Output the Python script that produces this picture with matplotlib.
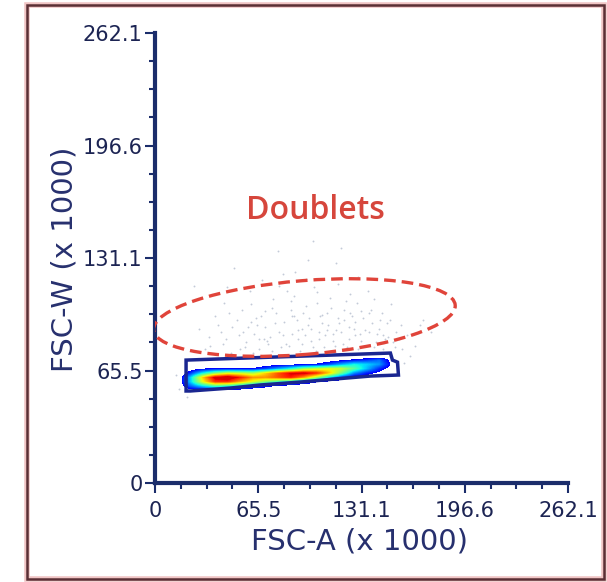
import numpy as np
import matplotlib.pyplot as plt
from matplotlib.colors import ListedColormap
from matplotlib.patches import Ellipse, Polygon, Rectangle
from matplotlib.ticker import FixedLocator, MultipleLocator

plt.rcParams["font.family"] = ["DejaVu Sans"]

# axis scale (FSC x 1000)
axis_max = 262.144
tick_values = [0, 65.536, 131.072, 196.608, 262.144]
tick_labels = ["0", "65.5", "131.1", "196.6", "262.1"]

# density of the singlet population (0 = no events)
dens_x = [14, 22, 30, 38, 46, 54, 62, 70, 78, 86, 94, 102, 110, 118, 126, 134, 142, 150, 158]
dens_y = [51.5, 54, 56.5, 59, 61.5, 64, 66.5, 69, 71.5, 74, 76.5]
dens_rows = [
    # y = 51.5
    [0] * 19,
    # y = 54
    [0, 0.05, 0.06, 0.08, 0.06, 0.04, 0.00, 0.00, 0.00, 0.00, 0.00, 0.00, 0.00, 0.00, 0.00, 0.00, 0.00, 0.00, 0],
    # y = 56.5
    [0, 0.20, 0.32, 0.42, 0.38, 0.32, 0.22, 0.14, 0.08, 0.05, 0.00, 0.00, 0.00, 0.00, 0.00, 0.00, 0.00, 0.00, 0],
    # y = 59
    [0, 0.30, 0.62, 0.85, 0.85, 0.72, 0.60, 0.50, 0.40, 0.32, 0.22, 0.12, 0.08, 0.05, 0.00, 0.00, 0.00, 0.00, 0],
    # y = 61.5
    [0, 0.30, 0.68, 0.95, 1.00, 0.88, 0.75, 0.75, 0.82, 0.88, 0.75, 0.55, 0.35, 0.18, 0.08, 0.05, 0.00, 0.00, 0],
    # y = 64
    [0, 0.15, 0.35, 0.50, 0.60, 0.58, 0.55, 0.68, 0.82, 0.92, 0.95, 0.88, 0.70, 0.48, 0.25, 0.14, 0.08, 0.00, 0],
    # y = 66.5
    [0, 0.05, 0.10, 0.12, 0.12, 0.12, 0.12, 0.18, 0.28, 0.38, 0.52, 0.58, 0.62, 0.58, 0.45, 0.30, 0.15, 0.05, 0],
    # y = 69
    [0, 0.00, 0.00, 0.00, 0.00, 0.00, 0.00, 0.05, 0.06, 0.08, 0.10, 0.12, 0.18, 0.28, 0.36, 0.32, 0.26, 0.08, 0],
    # y = 71.5
    [0, 0.00, 0.00, 0.00, 0.00, 0.00, 0.00, 0.00, 0.00, 0.00, 0.00, 0.00, 0.05, 0.08, 0.12, 0.16, 0.22, 0.05, 0],
    # y = 74
    [0] * 19,
    # y = 76.5
    [0] * 19,
]

# sparse events (mostly doublets)
dots_x = [35, 42, 48, 52, 58, 61, 66, 70, 73, 77, 80, 84, 87, 90, 93, 96, 99, 102, 105, 108,
          111, 114, 117, 120, 123, 126, 129, 132, 136, 140, 144, 148, 152, 156, 38, 45, 55, 63,
          68, 75, 82, 89, 95, 101, 107, 112, 118, 124, 131, 138, 145, 150, 160, 28, 32, 44, 57,
          64, 72, 79, 86, 92, 98, 104, 110, 116, 122, 128, 134, 142, 165, 25, 50, 78, 97, 115,
          60, 85, 103, 120, 135, 147, 40, 70, 88, 109, 127, 74, 66, 94, 113, 131, 155, 170, 46,
          81, 100, 118, 62, 91, 106, 125, 139, 13, 15, 20, 158, 162,
          53, 59, 67, 71, 76, 83, 88, 91, 97, 100, 104, 109, 113, 119, 121, 127, 133, 137, 141,
          146, 149, 153, 157, 43, 49, 56, 65, 69, 74, 81, 86, 93, 99, 106, 111, 116, 123, 130,
          136, 143, 151, 34, 47, 54, 61, 79, 87, 96, 103, 115, 124, 129, 139, 145, 168, 175]
dots_y = [80, 88, 76, 95, 82, 104, 78, 91, 85, 99, 79, 112, 87, 95, 81, 103, 90, 77, 97, 86,
          108, 80, 93, 101, 84, 90, 78, 96, 88, 82, 99, 85, 79, 92, 97, 84, 101, 87,
          118, 107, 94, 123, 86, 114, 79, 102, 88, 110, 83, 93, 78, 104, 86, 90, 78, 105, 79,
          96, 81, 88, 101, 77, 96, 84, 92, 116, 79, 105, 80, 90, 80, 115, 125, 135, 130, 128,
          112, 80, 105, 95, 112, 93, 92, 100, 109, 89, 86, 77, 84, 99, 83, 100, 84, 95, 114,
          122, 141, 137, 76, 89, 93, 97, 79, 63, 55, 50, 70, 74,
          86, 91, 97, 83, 93, 81, 97, 84, 92, 79, 88, 99, 87, 81, 106, 94, 89, 101, 87,
          84, 95, 88, 78, 81, 91, 88, 92, 84, 102, 86, 106, 90, 83, 98, 77, 96, 91, 87,
          99, 95, 82, 85, 99, 78, 94, 115, 97, 119, 111, 89, 99, 120, 107, 86, 92, 88]

# singlet gate vertices
gate_x = [19.7, 149.4, 150.7, 153.9, 154.5, 136.7, 114.5, 92.2, 66.8, 47.7, 22.3, 19.7]
gate_y = [71.6, 75.7, 71.6, 70.4, 62.9, 62.3, 60.6, 58.8, 57.1, 55.3, 53.6, 53.6]

# doublet ellipse (centre, width, height, angle)
doublet_center = (94.8, 96.4)
doublet_size = (192.0, 43.0)
doublet_angle = 4.3

navy = "#1b2d6b"
label_col = "#27306e"

fig = plt.figure(figsize=(6.07, 5.82), dpi=100)
ax = fig.add_axes([0.2554, 0.1701, 0.6804, 0.7732])

# outer frame
fig.patches.append(Rectangle((0.0445, 0.005), 0.9505, 0.9864, transform=fig.transFigure,
                             fill=False, ec="#f0c4c4", lw=4.0, zorder=0))
fig.patches.append(Rectangle((0.0445, 0.005), 0.9505, 0.9864, transform=fig.transFigure,
                             fill=False, ec="#5a2f35", lw=1.8, zorder=1))

ax.scatter(dots_x, dots_y, s=1.8, color="#c3cad8", linewidths=0, zorder=1)

dens = np.array(dens_rows)
jet = plt.get_cmap("jet")
cmap = ListedColormap(jet(np.linspace(0.12, 0.92, 256)))
cmap.set_under((1, 1, 1, 0))
step_x = dens_x[1] - dens_x[0]
step_y = dens_y[1] - dens_y[0]
ax.imshow(dens, origin="lower", aspect="auto", cmap=cmap, vmin=0.1, vmax=0.92,
          interpolation="bilinear",
          extent=[dens_x[0] - step_x / 2, dens_x[-1] + step_x / 2,
                  dens_y[0] - step_y / 2, dens_y[-1] + step_y / 2], zorder=2)

ax.add_patch(Polygon(list(zip(gate_x, gate_y)), closed=True, fill=False,
                     ec="#1a2690", lw=2.5, zorder=3))

ax.add_patch(Ellipse(doublet_center, doublet_size[0], doublet_size[1], angle=doublet_angle,
                     fill=False, ec="#e0443a", lw=2.4, ls=(0, (3.5, 1.8)), zorder=4))

ax.text(102, 159, "Doublets", color="#d6463c", fontsize=23, fontfamily="Open Sans",
        fontweight="semibold", ha="center", va="center")

ax.set_xlim(0, axis_max)
ax.set_ylim(0, axis_max)
for a in (ax.xaxis, ax.yaxis):
    a.set_major_locator(FixedLocator(tick_values))
    a.set_minor_locator(MultipleLocator(axis_max / 16))
ax.set_xticklabels(tick_labels)
ax.set_yticklabels(tick_labels)

for side in ["top", "right"]:
    ax.spines[side].set_visible(False)
for side in ["left", "bottom"]:
    ax.spines[side].set_color(navy)
    ax.spines[side].set_linewidth(3)

ax.tick_params(which="major", length=7, width=1.5, color=navy, labelsize=15,
               labelcolor="#1c2453")
ax.tick_params(axis="x", which="major", pad=6)
ax.tick_params(axis="y", which="major", pad=2)
ax.tick_params(which="minor", length=4, width=1.5, color=navy)

ax.set_xlabel("FSC-A (x 1000)", fontsize=21, color=label_col)
ax.set_ylabel("FSC-W (x 1000)", fontsize=21, color=label_col)
ax.xaxis.set_label_coords(0.496, -0.098)
ax.yaxis.set_label_coords(-0.186, 0.496)

fig.savefig("out.png", dpi=100)
